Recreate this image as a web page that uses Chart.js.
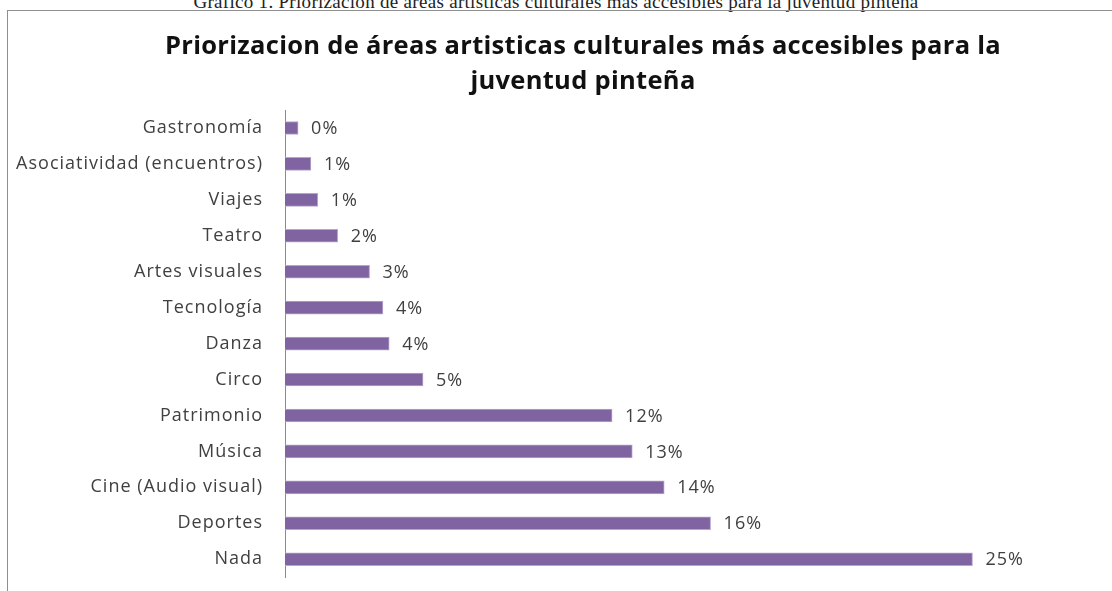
<!DOCTYPE html>
<html><head><meta charset="utf-8">
<script src="https://cdn.jsdelivr.net/npm/chart.js@4/dist/chart.umd.min.js"></script>
<style>
html,body{margin:0;padding:0;background:#fff;width:1112px;height:591px;overflow:hidden;position:relative;}
#cap{position:absolute;left:0;width:1112px;top:-8px;text-align:center;font-family:"Liberation Serif",serif;font-size:19px;line-height:19px;letter-spacing:0.3px;color:#222;white-space:nowrap;}
#box{position:absolute;left:7px;top:10px;width:1160px;height:640px;border:1.5px solid #8f8f8f;box-sizing:border-box;}
#c{position:absolute;left:8px;top:11px;}
</style></head><body>
<div id="cap">Gráfico 1. Priorización de áreas artísticas culturales más accesibles para la juventud pinteña</div>
<div id="box"></div>
<canvas id="c" width="1150" height="599"></canvas>
<script>
const categories = ['Gastronomía','Asociatividad (encuentros)','Viajes','Teatro','Artes visuales','Tecnología','Danza','Circo','Patrimonio','Música','Cine (Audio visual)','Deportes','Nada'];
const values = [0.48, 0.95, 1.2, 1.93, 3.1, 3.59, 3.82, 5.06, 11.99, 12.73, 13.9, 15.6, 25.2];
const valueLabels = ['0%','1%','1%','2%','3%','4%','4%','5%','12%','13%','14%','16%','25%'];
const titleLines = ['Priorizacion de áreas artisticas culturales más accesibles para la','juventud pinteña'];

const FONT = '"Open Sans", "Liberation Sans", sans-serif';

const spacingPlugin = {
  id: 'spacingPlugin',
  beforeDraw(chart) { chart.ctx.letterSpacing = '1px'; }
};

const titlePlugin = {
  id: 'titleTwoLines',
  afterDraw(chart) {
    const ctx = chart.ctx;
    ctx.save();
    ctx.letterSpacing = '0.3px';
    ctx.font = 'bold 25.5px ' + FONT;
    ctx.fillStyle = '#111';
    ctx.textAlign = 'center';
    ctx.textBaseline = 'alphabetic';
    const cx = chart.width / 2;
    ctx.fillText(titleLines[0], cx, 42.5);
    ctx.fillText(titleLines[1], cx, 78);
    ctx.restore();
  }
};

const labelPlugin = {
  id: 'valueLabelPlugin',
  afterDatasetsDraw(chart) {
    const ctx = chart.ctx;
    const meta = chart.getDatasetMeta(0);
    ctx.save();
    ctx.letterSpacing = '1px';
    ctx.font = '18px ' + FONT;
    ctx.fillStyle = '#404040';
    ctx.textAlign = 'left';
    ctx.textBaseline = 'middle';
    meta.data.forEach((bar, i) => {
      ctx.fillText(valueLabels[i], bar.x + 13, bar.y + 1);
    });
    ctx.restore();
  }
};

new Chart(document.getElementById('c'), {
  type: 'bar',
  data: {
    labels: categories,
    datasets: [{
      data: values,
      backgroundColor: '#8064A2',
      borderColor: '#B7A6CC',
      borderWidth: 1,
      barThickness: 13
    }]
  },
  options: {
    indexAxis: 'y',
    responsive: false,
    animation: false,
    layout: { padding: { left: 0, right: 0, top: 99, bottom: 3 } },
    plugins: {
      legend: { display: false },
      tooltip: { enabled: false },
      title: { display: false }
    },
    scales: {
      x: { display: false, min: 0, max: 32 },
      y: {
        afterFit(scale) { scale.width = 277; },
        grid: { display: false, drawTicks: false },
        border: { display: true, color: '#8a8a8a', width: 1 },
        ticks: { padding: 22, color: '#404040', font: { family: FONT, size: 18 } }
      }
    }
  },
  plugins: [spacingPlugin, labelPlugin, titlePlugin]
});
</script>
</body></html>
